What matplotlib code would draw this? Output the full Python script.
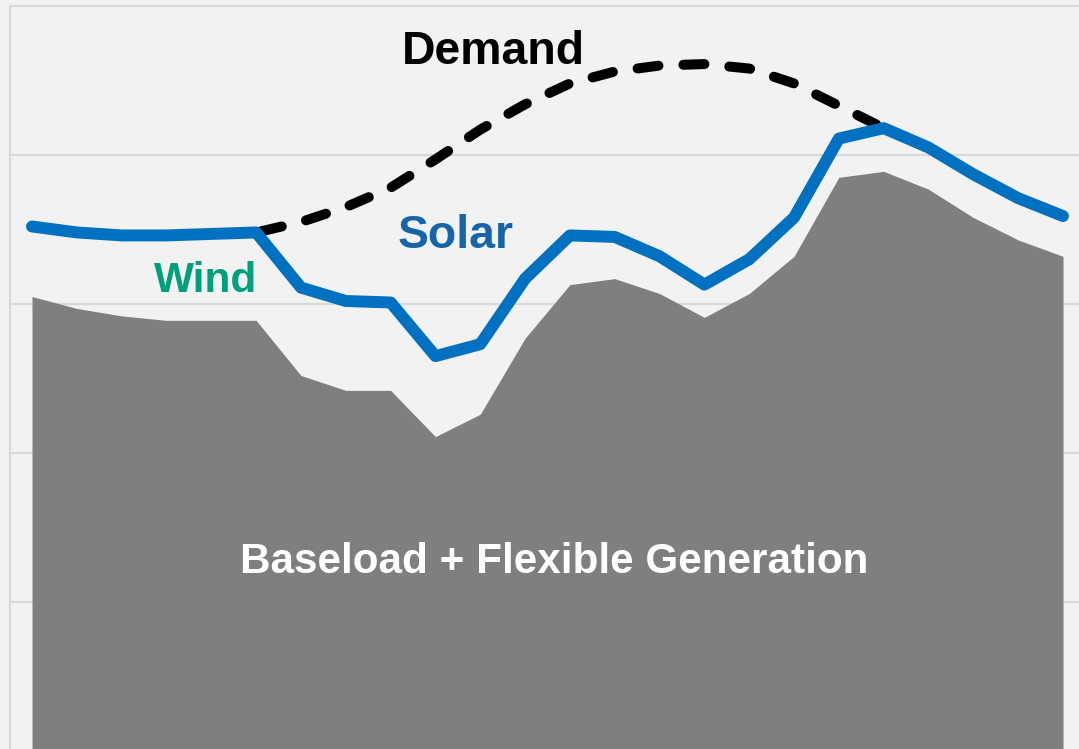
import numpy as np
import matplotlib
matplotlib.use('Agg')
import matplotlib.pyplot as plt

# hourly values, in gridline units
hours = np.arange(24)
baseload = [3.05, 2.97, 2.92, 2.89, 2.89, 2.89, 2.52, 2.42, 2.42, 2.11, 2.26, 2.77,
            3.13, 3.17, 3.07, 2.91, 3.07, 3.32, 3.85, 3.89, 3.77, 3.58, 3.43, 3.32]
supply = [3.52, 3.48, 3.46, 3.46, 3.47, 3.48, 3.11, 3.02, 3.01, 2.65, 2.73, 3.17,
          3.46, 3.45, 3.32, 3.13, 3.30, 3.58, 4.11, 4.18, 4.05, 3.87, 3.71, 3.59]
demand = [3.52, 3.48, 3.46, 3.46, 3.47, 3.48, 3.55, 3.65, 3.78, 3.97, 4.17, 4.34,
          4.48, 4.56, 4.60, 4.61, 4.58, 4.48, 4.33, 4.18, 4.05, 3.87, 3.71, 3.59]

bg = '#f2f2f2'
fig = plt.figure(figsize=(10.79, 7.49), dpi=100, facecolor=bg)
ax = fig.add_axes([10 / 1079, 0, 1069 / 1079, 1])
ax.set_facecolor(bg)

ax.fill_between(hours, 0, baseload, color='#7f7f7f', lw=0, zorder=2)

dem, = ax.plot(hours, demand, color='black', lw=7.2, zorder=3,
               dash_capstyle='round', solid_capstyle='round',
               dash_joinstyle='round')
dem.set_dashes((2.1, 2.5))
ax.plot(hours, supply, color='#0070c0', lw=8.6, zorder=4,
        solid_capstyle='round', solid_joinstyle='round')

ax.set_xlim(-0.491, 23.357)
ax.set_ylim(0.0134, 5.04)
ax.set_yticks([1, 2, 3, 4, 5])
ax.set_xticks([])
ax.tick_params(left=False, labelleft=False)
ax.grid(axis='y', color='#d9d9d9', lw=1.6, zorder=1)
for s in ['top', 'right', 'bottom']:
    ax.spines[s].set_visible(False)
ax.spines['left'].set_color('#d9d9d9')
ax.spines['left'].set_linewidth(1.6)
ax.spines['left'].set_bounds(0, 5)

font = ['Liberation Sans', 'DejaVu Sans']
ax.text(493 / 1079, 1 - 52 / 749, 'Demand', transform=fig.transFigure,
        ha='center', va='center', fontsize=33.4, fontweight='bold',
        color='black', family=font, zorder=5)
ax.text(456 / 1079, 1 - 236 / 749, 'Solar', transform=fig.transFigure,
        ha='center', va='center', fontsize=33.4, fontweight='bold',
        color='#1565a8', family=font, zorder=5)
ax.text(206 / 1079, 1 - 281 / 749, 'Wind', transform=fig.transFigure,
        ha='center', va='center', fontsize=30.5, fontweight='bold',
        color='#00a07a', family=font, zorder=5)
ax.text(554 / 1079, 1 - 562 / 749, 'Baseload + Flexible Generation',
        transform=fig.transFigure, ha='center', va='center', fontsize=30.4,
        fontweight='bold', color='white', family=font, zorder=5)

fig.savefig('out.png', dpi=100, facecolor=bg)
